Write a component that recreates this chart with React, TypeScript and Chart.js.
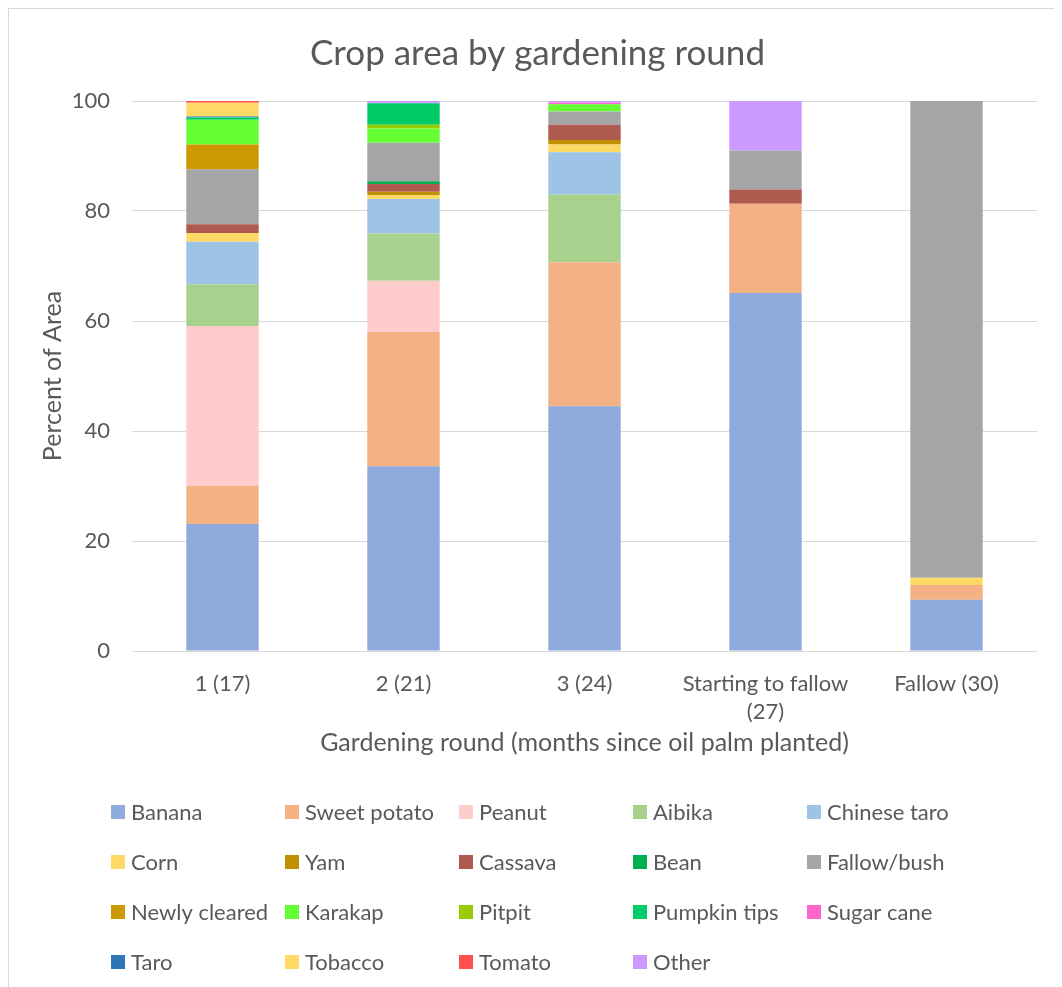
import React, { useEffect, useRef } from "react";
import { Chart, registerables } from "chart.js";

Chart.register(...registerables);

const FONT = "Lato, 'Noto Sans', sans-serif";
const TEXT = "#595959";

const categories: (string | string[])[] = [
  "1 (17)",
  "2 (21)",
  "3 (24)",
  ["Starting to fallow", "(27)"],
  "Fallow (30)",
];

const seriesNames = [
  "Banana", "Sweet potato", "Peanut", "Aibika", "Chinese taro",
  "Corn", "Yam", "Cassava", "Bean", "Fallow/bush",
  "Newly cleared", "Karakap", "Pitpit", "Pumpkin tips", "Sugar cane",
  "Taro", "Tobacco", "Tomato", "Other",
];

const seriesColors = [
  "#8faadc", "#f4b183", "#ffcccc", "#a9d18e", "#9dc3e6",
  "#ffd966", "#bf9000", "#ae5a4e", "#00b050", "#a5a5a5",
  "#cc9900", "#66ff33", "#99cc00", "#00cc66", "#ff66cc",
  "#2e75b6", "#ffd966", "#ff5050", "#cc99ff",
];

const banana = [23.1, 33.6, 44.5, 65.1, 9.3];
const sweetPotato = [6.9, 24.4, 26.2, 16.2, 2.7];
const peanut = [29.1, 9.3, 0, 0, 0];
const aibika = [7.6, 8.6, 12.3, 0, 0];
const chineseTaro = [7.7, 6.3, 7.7, 0, 0];
const corn = [1.6, 0.7, 1.4, 0, 1.3];
const yam = [0, 0.6, 0.8, 0, 0];
const cassava = [1.6, 1.4, 2.8, 2.6, 0];
const bean = [0, 0.5, 0, 0, 0];
const fallowBush = [10.0, 7.0, 2.4, 7.1, 86.7];
const newlyCleared = [4.5, 0, 0, 0, 0];
const karakap = [4.5, 2.6, 1.3, 0, 0];
const pitpit = [0, 0.7, 0, 0, 0];
const pumpkinTips = [0.4, 3.9, 0, 0, 0];
const sugarCane = [0, 0, 0.3, 0, 0];
const taro = [0.2, 0, 0, 0, 0];
const tobacco = [2.5, 0, 0, 0, 0];
const tomato = [0.3, 0, 0, 0, 0];
const other = [0, 0.4, 0.3, 9.0, 0];

const seriesValues = [
  banana, sweetPotato, peanut, aibika, chineseTaro,
  corn, yam, cassava, bean, fallowBush,
  newlyCleared, karakap, pitpit, pumpkinTips, sugarCane,
  taro, tobacco, tomato, other,
];

const yTicks = [0, 20, 40, 60, 80, 100];

// Legend laid out as a fixed grid below the plot
const gridLegend = {
  id: "gridLegend",
  afterDraw(chart: Chart) {
    const ctx = chart.ctx;
    const cols = 5;
    const colX0 = 102;
    const colStep = 174;
    const rowY0 = 803;
    const rowStep = 50;
    const box = 14;
    ctx.save();
    ctx.font = `22px ${FONT}`;
    ctx.textBaseline = "middle";
    ctx.textAlign = "left";
    chart.data.datasets.forEach((ds: any, i: number) => {
      const c = i % cols;
      const r = Math.floor(i / cols);
      const x = colX0 + c * colStep;
      const y = rowY0 + r * rowStep;
      ctx.fillStyle = ds.backgroundColor as string;
      ctx.fillRect(x, y - box / 2, box, box);
      ctx.fillStyle = TEXT;
      ctx.fillText(ds.label, x + box + 6, y + 1);
    });
    ctx.restore();
  },
};

export default function App() {
  const canvasRef = useRef<HTMLCanvasElement | null>(null);

  useEffect(() => {
    if (!canvasRef.current) return;
    const chart = new Chart(canvasRef.current, {
      type: "bar",
      data: {
        labels: categories as any,
        datasets: seriesNames.map((name, i) => ({
          label: name,
          data: seriesValues[i],
          backgroundColor: seriesColors[i],
          borderWidth: 0,
          barPercentage: 0.4,
          categoryPercentage: 1,
        })),
      },
      options: {
        responsive: false,
        animation: false,
        layout: { padding: { left: 29, right: 20, top: 0, bottom: 234 } },
        plugins: {
          legend: { display: false },
          tooltip: { enabled: false },
          title: {
            display: true,
            text: "Crop area by gardening round",
            color: TEXT,
            font: { family: FONT, size: 35, weight: "normal" },
            padding: { top: 24, bottom: 26 },
          },
        },
        scales: {
          x: {
            stacked: true,
            grid: { display: false },
            border: { display: false },
            afterFit(scale: any) {
              scale.height = 107;
            },
            ticks: {
              color: TEXT,
              font: { family: FONT, size: 22, lineHeight: 1.273 },
              padding: 11,
              maxRotation: 0,
              autoSkip: false,
            },
            title: {
              display: true,
              text: "Gardening round (months since oil palm planted)",
              color: TEXT,
              font: { family: FONT, size: 25 },
              padding: { top: 0, bottom: 0 },
            },
          },
          y: {
            stacked: true,
            min: 0,
            max: 100,
            afterBuildTicks(scale: any) {
              scale.ticks = yTicks.map((v) => ({ value: v }));
            },
            afterFit(scale: any) {
              scale.width = 94;
            },
            grid: { color: "#d9d9d9", lineWidth: 1, drawTicks: false },
            border: { display: false },
            ticks: {
              color: TEXT,
              font: { family: FONT, size: 22 },
              padding: 22,
            },
            title: {
              display: true,
              text: "Percent of Area",
              color: TEXT,
              font: { family: FONT, size: 25 },
              padding: { top: 0, bottom: 0 },
            },
          },
        },
      },
      plugins: [gridLegend],
    });
    return () => chart.destroy();
  }, []);

  return (
    <div
      style={{
        width: 1050,
        height: 985,
        boxSizing: "border-box",
        border: "1px solid #d9d9d9",
        background: "#ffffff",
      }}
    >
      <canvas ref={canvasRef} width={1048} height={983} style={{ display: "block" }} />
    </div>
  );
}
